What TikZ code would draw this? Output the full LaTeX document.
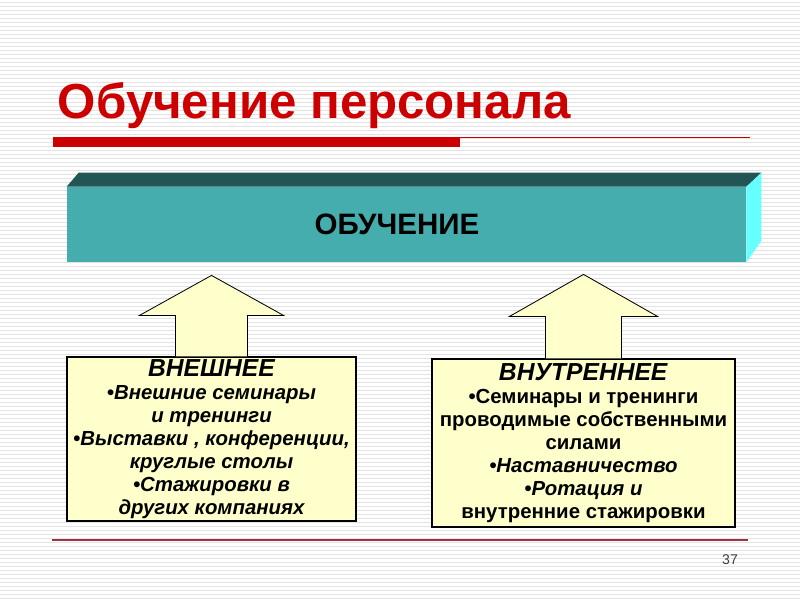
\documentclass[tikz,border=0pt]{standalone}
\usepackage{fontspec}
\setmainfont{Liberation Sans}
\usetikzlibrary{calc}
\definecolor{titlered}{HTML}{CC0000}
\definecolor{footred}{HTML}{9E3346}
\definecolor{tealfront}{HTML}{45ADAD}
\definecolor{tealtop}{HTML}{225555}
\definecolor{tealside}{HTML}{66FFFF}
\definecolor{paleyellow}{HTML}{FFFFCC}
\tikzset{
  stripe/.style={gray!22, line width=0.6pt},
  ybox/.style={draw, fill=paleyellow, line width=0.8pt, align=center, inner sep=0pt,
    font=\fontsize{14.5}{16.4}\selectfont\bfseries},
  uparrow/.style={draw, fill=paleyellow, line width=0.6pt}
}
\begin{document}
\begin{tikzpicture}[x=0.025cm, y=-0.025cm]
\useasboundingbox (0,0) rectangle (800,600);
\fill[white] (0,0) rectangle (800,600);
\foreach \y in {2,6,...,598} \draw[stripe] (0,\y) -- (800,\y);

\node[anchor=west, text=titlered, font=\fontsize{35}{40}\selectfont\bfseries] (title) at (53,106) {Обучение персонала};
\fill[titlered] (53,137) rectangle (460,147);
\draw[titlered, line width=1pt] (460,137.5) -- (750,137.5);

\node[fill=tealfront, minimum width=16.975cm, minimum height=1.875cm, inner sep=0pt] (box) at (406.5,224.5) {};
\fill[tealtop] (box.north west) -- ++(12,-14) -- ($(box.north east)+(15,-14)$) -- (box.north east) -- cycle;
\fill[tealside] (box.north east) -- ++(15,-14) -- ++(0,68) -- (box.south east) -- cycle;
\node[font=\fontsize{21}{24}\selectfont\bfseries] (obuch) at (397,224) {ОБУЧЕНИЕ};

\node[ybox, font=\fontsize{14.5}{16.4}\selectfont\bfseries\itshape, minimum width=7.225cm, minimum height=4.1cm] (ext) at (211.5,439)
  {{\fontsize{17.5}{16.4}\selectfont ВНЕШНЕЕ}\\ •Внешние семинары\\ и тренинги\\ •Выставки , конференции,\\ круглые столы\\ •Стажировки в\\ других компаниях};
\node[ybox, minimum width=7.575cm, minimum height=4.2cm] (int) at (583.5,443)
  {\textit{\fontsize{17.5}{16}\selectfont ВНУТРЕННЕЕ}\\ •Семинары и тренинги\\ проводимые собственными\\ силами\\ \textit{•Наставничество}\\ \textit{•Ротация и}\\ внутренние стажировки};

\draw[uparrow] ($(ext.north)+(-36,0)$) -- ++(0,-41) -- ++(-36,0) -- ($(ext.north)+(0,-81)$) -- ($(ext.north)+(72,-41)$) -- ++(-36,0) -- ++(0,41);
\draw[uparrow] ($(int.north)+(-38,0)$) -- ++(0,-42) -- ++(-36,0) -- ($(int.north)+(0,-84)$) -- ($(int.north)+(74,-42)$) -- ++(-36,0) -- ++(0,42);

\draw[footred, line width=0.9pt] (52,540) -- (748,540);
\node[text=black!75, font=\fontsize{10}{12}\selectfont] (page) at (730,560) {37};
\end{tikzpicture}
\end{document}
